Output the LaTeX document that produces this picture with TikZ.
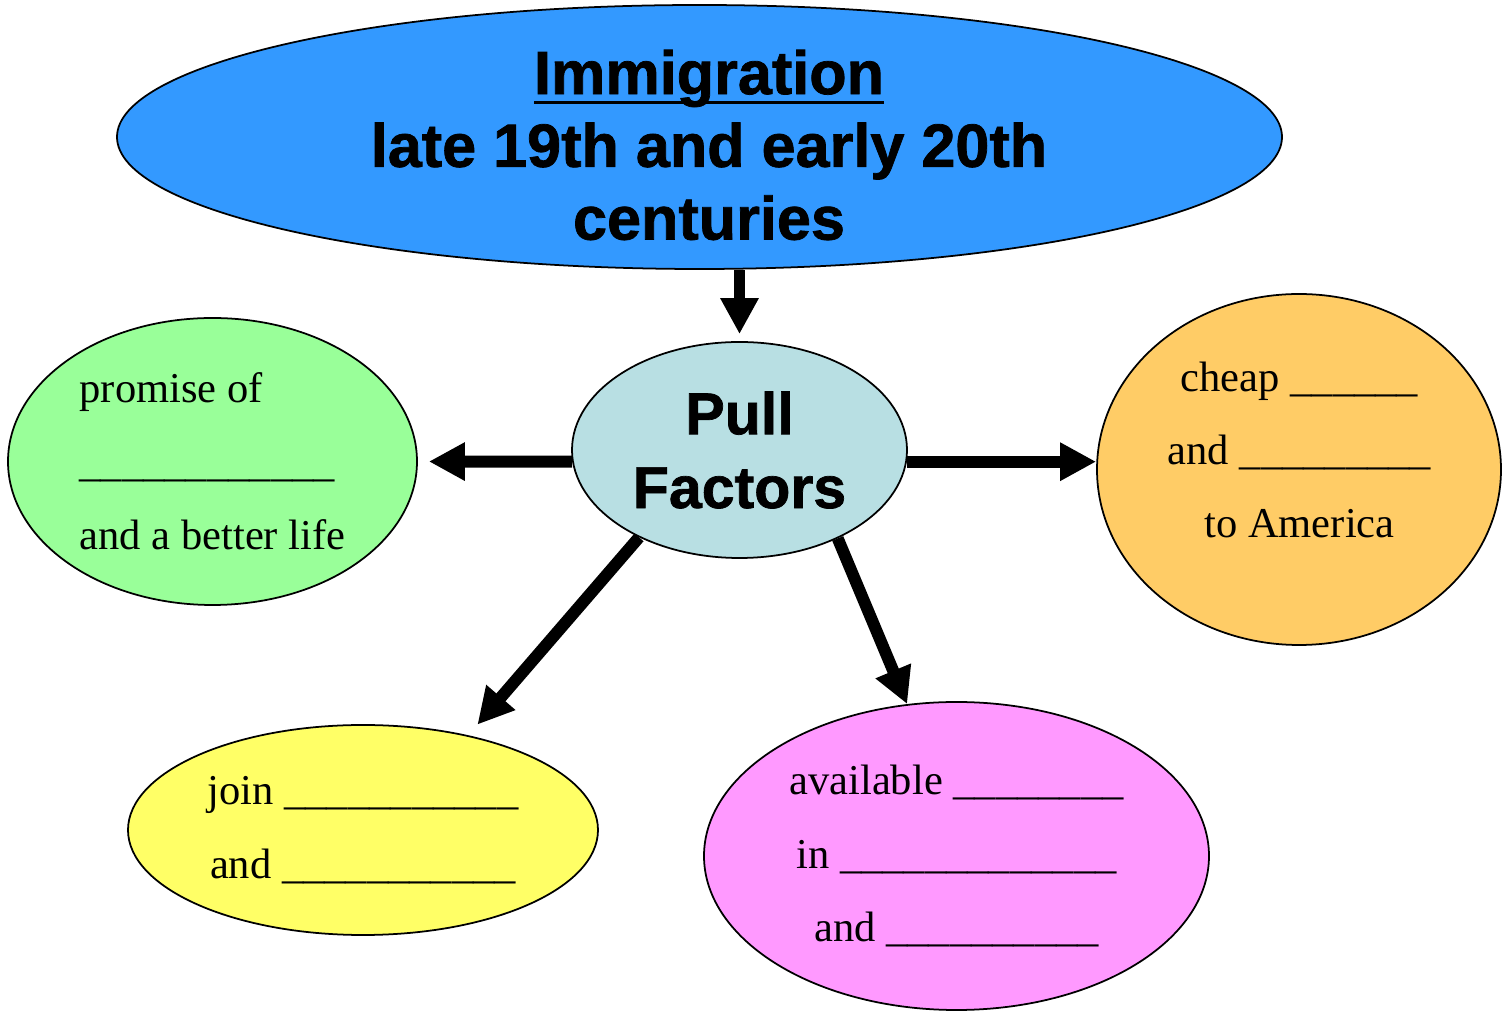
\documentclass[tikz,border=0pt]{standalone}
\usepackage{fontspec}
\setmainfont{Liberation Serif}
\newfontfamily\headfont{Liberation Sans}[BoldFeatures={FakeBold=1.2}]
\usetikzlibrary{shapes.geometric, arrows.meta}

\definecolor{topblue}{HTML}{3399FF}
\definecolor{pullblue}{RGB}{184,223,227}
\definecolor{promisegreen}{HTML}{99FF99}
\definecolor{cheaporange}{HTML}{FFCC66}
\definecolor{joinyellow}{HTML}{FFFF66}
\definecolor{availpink}{HTML}{FF99FF}

% word with a low, heavy underline
\newcommand{\ulword}[1]{\setbox0\hbox{#1}\rlap{\rule[-0.17em]{\wd0}{0.055em}}\box0}
% a row of underscores to write in
\newcommand{\blank}[1]{\foreach \i in {1,...,#1}{\_}}

\begin{document}
\begin{tikzpicture}[bubble/.style={draw, ellipse, line width=0.5pt, inner sep=0pt},
    bodytext/.style={font=\fontsize{12.1}{20.9}\selectfont, align=center},
    headtext/.style={font=\headfont\bfseries\fontsize{17.4}{20.7}\selectfont, align=center, inner sep=0pt},
    arr/.style={line width=3.4pt, -{Triangle[length=0.36cm, width=0.36cm]}}]
    \useasboundingbox (0,0) rectangle (15.12,-10.11);

    \node[bubble, fill=topblue, minimum width=11.65cm, minimum height=2.64cm] (top) at (6.995,-1.37) {};
    \node[headtext] (title) at (7.09,-1.45) {\ulword{Immigration}\\late 19th and early 20th\\centuries};

    \node[bubble, fill=pullblue, minimum width=3.35cm, minimum height=2.16cm, headtext, font=\headfont\bfseries\fontsize{16.8}{21}\selectfont] (pull) at (7.395,-4.50) {Pull\\Factors};

    \node[bubble, fill=promisegreen, minimum width=4.09cm, minimum height=2.87cm, bodytext, align=left] (promise) at (2.125,-4.615) {promise of\\\blank{12}\\and a better life};
    \node[bubble, fill=cheaporange, minimum width=4.04cm, minimum height=3.51cm] (cheap) at (12.99,-4.695) {};
    \node[bodytext] (cheaptext) at (12.995,-4.50) {cheap \blank{6}\\and \blank{9}\\to America};
    \node[bubble, fill=joinyellow, minimum width=4.70cm, minimum height=2.10cm, bodytext] (join) at (3.63,-8.30) {join \blank{11}\\and \blank{11}};
    \node[bubble, fill=availpink, minimum width=5.05cm, minimum height=3.08cm, bodytext] (avail) at (9.565,-8.56) {available \blank{8}\\in \blank{13}\\and \blank{10}};

    \draw[arr, shorten >=0.07cm] (pull.north |- top.south) -- (pull.north);
    \draw[arr, shorten >=0.11cm] (pull.184) -- (promise.east);
    \draw[arr] (pull.-4) -- (pull.-4 -| cheap.west);
    \draw[arr, shorten >=0.14cm] (pull.221) -- (join.42);
    \draw[arr] (pull.318) -- (avail.108);
\end{tikzpicture}
\end{document}
